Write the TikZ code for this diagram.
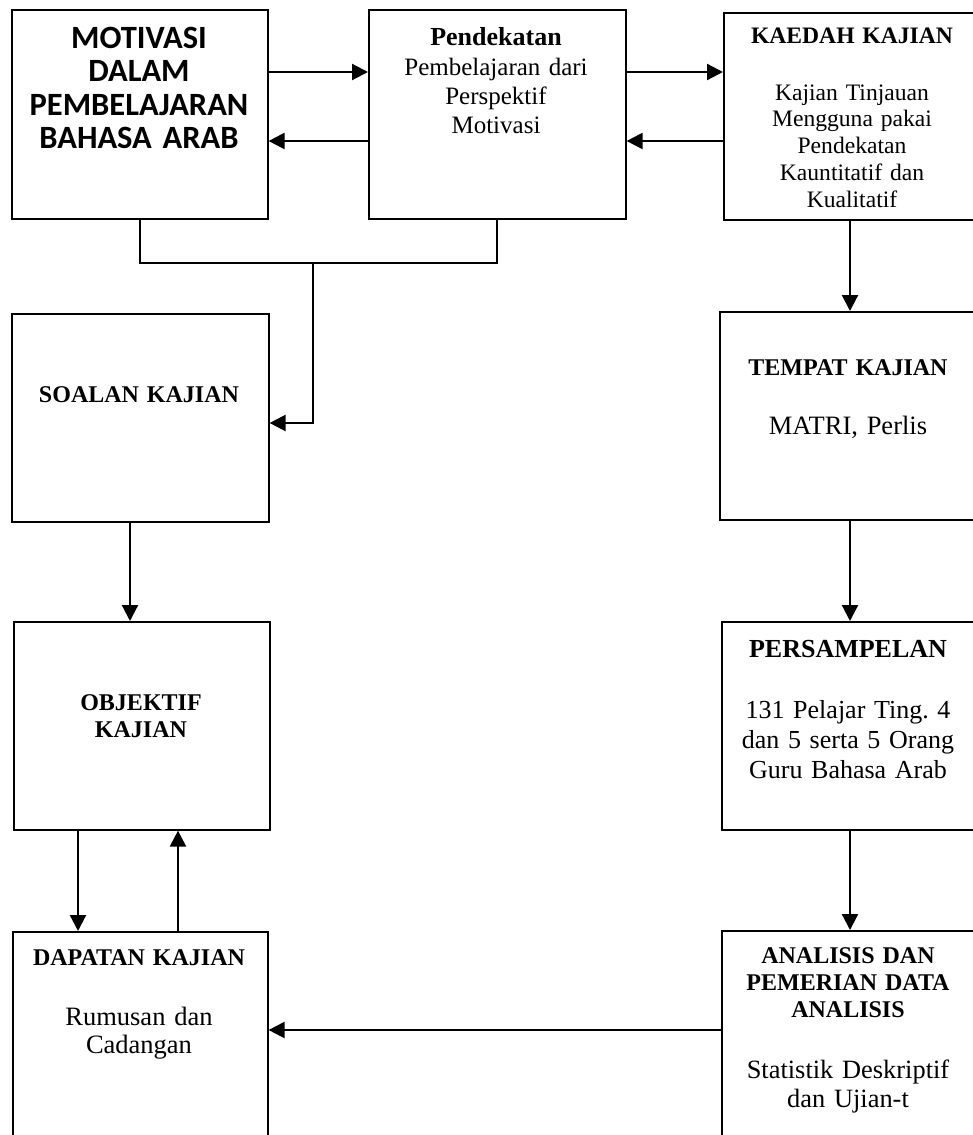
\documentclass[tikz,border=0pt]{standalone}
\usepackage{fontspec}
\setmainfont{Liberation Serif}
\newfontfamily\calibfont{Carlito}
\usetikzlibrary{arrows.meta}
\frenchspacing
\begin{document}
\begin{tikzpicture}[x=1pt,y=-1pt,
  boxnode/.style={draw=black, line width=1.6pt, rectangle, anchor=north west, inner sep=0pt},
  ttl/.style={anchor=base, text width=250pt, align=center, inner sep=0pt, font=\bfseries\fontsize{24}{27}\selectfont},
  bdy/.style={anchor=base, text width=250pt, align=center, inner sep=0pt, font=\fontsize{26}{29}\selectfont},
  arr/.style={line width=2.2pt, -{Triangle[length=16pt,width=16pt]}},
  conn/.style={line width=2.2pt}]
\useasboundingbox (0,0) rectangle (973,1135);
% boxes
\node[boxnode, minimum width=256pt, minimum height=209pt] (mot) at (11,9) {};
\node[boxnode, minimum width=257pt, minimum height=209pt] (pend) at (368,9) {};
\node[boxnode, minimum width=257pt, minimum height=207pt] (kaedah) at (723,12) {};
\node[boxnode, minimum width=257pt, minimum height=208pt] (soal) at (11,313) {};
\node[boxnode, minimum width=256pt, minimum height=208pt] (obj) at (13,621) {};
\node[boxnode, minimum width=255pt, minimum height=230pt] (dap) at (12,931) {};
\node[boxnode, minimum width=261pt, minimum height=208pt] (tempat) at (719,311) {};
\node[boxnode, minimum width=259pt, minimum height=208pt] (pers) at (721,621) {};
\node[boxnode, minimum width=259pt, minimum height=230pt] (anal) at (721,930) {};
% texts
\node[anchor=base, text width=250pt, align=center, inner sep=0pt, font=\calibfont\bfseries\fontsize{32.5}{33.5}\selectfont] (motT) at (139,48) {MOTIVASI\\DALAM\\PEMBELAJARAN\\BAHASA ARAB};
\node[ttl, font=\bfseries\fontsize{26}{29}\selectfont] (pendT) at (496,45) {Pendekatan};
\node[bdy, font=\fontsize{25}{29.3}\selectfont] (pendB) at (496,75) {Pembelajaran dari\\Perspektif\\Motivasi};
\node[ttl, font=\bfseries\fontsize{23.6}{27}\selectfont] (kaedahT) at (852,43) {KAEDAH KAJIAN};
\node[bdy, font=\fontsize{23.6}{26.8}\selectfont] (kaedahB) at (852,100) {Kajian Tinjauan\\Mengguna pakai\\Pendekatan\\Kauntitatif dan\\Kualitatif};
\node[ttl] (soalT) at (139,402) {SOALAN KAJIAN};
\node[ttl] (objT) at (141,710) {OBJEKTIF\\KAJIAN};
\node[ttl] (dapT) at (139,965) {DAPATAN KAJIAN};
\node[bdy, font=\fontsize{26.5}{28}\selectfont] (dapB) at (139,1025) {Rumusan dan\\Cadangan};
\node[ttl] (tempatT) at (848,375) {TEMPAT KAJIAN};
\node[bdy, font=\fontsize{26.5}{29}\selectfont] (tempatB) at (848,434) {MATRI, Perlis};
\node[ttl, font=\bfseries\fontsize{26}{29}\selectfont] (persT) at (848,657) {PERSAMPELAN};
\node[bdy, font=\fontsize{26}{30}\selectfont] (persB) at (848,718) {131 Pelajar Ting. 4\\dan 5 serta 5 Orang\\Guru Bahasa Arab};
\node[ttl] (analT) at (848,963) {ANALISIS DAN\\PEMERIAN DATA\\ANALISIS};
\node[bdy, font=\fontsize{26.4}{29}\selectfont] (analB) at (848,1078) {Statistik Deskriptif\\dan Ujian-t};
% guide coordinates
\coordinate (r1) at (0,72);
\coordinate (r2) at (0,141);
\coordinate (j) at (313,263);
\coordinate (r3) at (0,423);
\coordinate (c1) at (130,0);
\coordinate (c2) at (78,0);
\coordinate (c3) at (178,0);
\coordinate (c4) at (850,0);
\coordinate (r4) at (0,1030);
% connectors
\draw[arr] (mot.east |- r1) -- (pend.west |- r1);
\draw[arr] (pend.west |- r2) -- (mot.east |- r2);
\draw[arr] (pend.east |- r1) -- (kaedah.west |- r1);
\draw[arr] (kaedah.west |- r2) -- (pend.east |- r2);
\draw[conn] (mot.south) |- (pend.south |- j) -- (pend.south);
\draw[arr] (j) |- (soal.east |- r3);
\draw[arr] (soal.south -| c1) -- (obj.north -| c1);
\draw[arr] (obj.south -| c2) -- (dap.north -| c2);
\draw[arr] (dap.north -| c3) -- (obj.south -| c3);
\draw[arr] (kaedah.south -| c4) -- (tempat.north -| c4);
\draw[arr] (tempat.south -| c4) -- (pers.north -| c4);
\draw[arr] (pers.south -| c4) -- (anal.north -| c4);
\draw[arr] (anal.west |- r4) -- (dap.east |- r4);
\end{tikzpicture}
\end{document}
